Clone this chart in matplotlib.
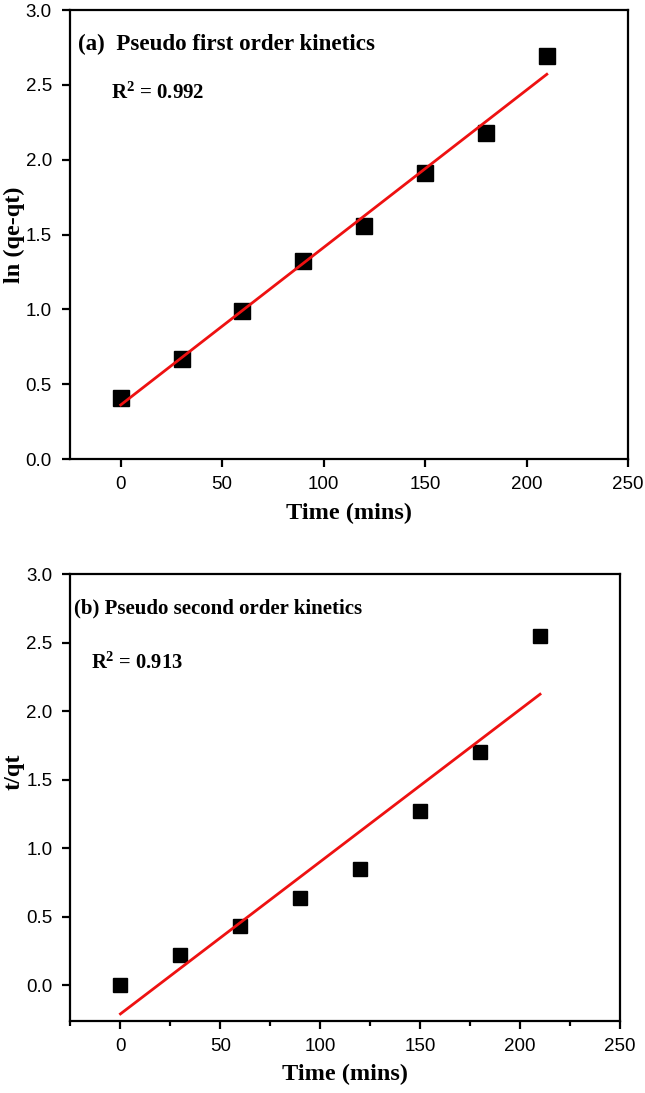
import matplotlib

matplotlib.use("Agg")
import matplotlib.pyplot as plt
import numpy as np
from matplotlib.ticker import MultipleLocator

# contact time (mins)
time_min = [0, 30, 60, 90, 120, 150, 180, 210]
# (a) pseudo first order: ln(qe-qt)
ln_qe_qt = [0.41, 0.67, 0.99, 1.32, 1.56, 1.91, 2.18, 2.69]
# (b) pseudo second order: t/qt
t_over_qt = [0.00, 0.22, 0.43, 0.64, 0.85, 1.27, 1.70, 2.55]

r2_first = "0.992"
r2_second = "0.913"

SANS = "Liberation Sans"
SERIF = "Liberation Serif"

plt.rcParams["font.family"] = SANS
plt.rcParams["mathtext.fontset"] = "custom"
plt.rcParams["mathtext.rm"] = SERIF
plt.rcParams["mathtext.bf"] = "Liberation Serif:bold"

fig = plt.figure(figsize=(6.45, 10.93), dpi=100)
ax_a = fig.add_axes([0.1085, 0.5800, 0.8651, 0.4108])
ax_b = fig.add_axes([0.1093, 0.0659, 0.8519, 0.4089])


def style(ax, ylabel, minor_x):
    for s in ax.spines.values():
        s.set_linewidth(1.6)
    ax.tick_params(axis="both", which="major", direction="out", length=6, width=1.6,
                   labelsize=13.5)
    ax.tick_params(axis="x", pad=6)
    ax.tick_params(axis="y", pad=7)
    ax.xaxis.set_major_locator(MultipleLocator(50))
    ax.yaxis.set_major_locator(MultipleLocator(0.5))
    if minor_x:
        ax.xaxis.set_minor_locator(MultipleLocator(25))
        ax.tick_params(axis="x", which="minor", direction="out", length=3.5, width=1.6)
    ax.set_xlabel("Time (mins)", family=SERIF, fontweight="bold", fontsize=17.5, labelpad=7)
    ax.set_ylabel(ylabel, family=SERIF, fontweight="bold", fontsize=17.5)
    for lab in ax.get_xticklabels() + ax.get_yticklabels():
        lab.set_family(SANS)


x = np.array(time_min, dtype=float)

# (a)
ya = np.array(ln_qe_qt)
ka, ba = np.polyfit(x, ya, 1)
ax_a.plot(x, ya, "s", color="black", markersize=11.5, zorder=2)
ax_a.plot([x[0], x[-1]], [ba, ka * x[-1] + ba], color="#ee1111", linewidth=2, zorder=3)
ax_a.set_xlim(-25, 250)
ax_a.set_ylim(0, 3.0)
style(ax_a, "ln (qe-qt)", minor_x=False)
ax_a.yaxis.set_label_coords(-0.081, 0.5)
ax_a.text(0.014, 0.923, "(a)  Pseudo first order kinetics", transform=ax_a.transAxes,
          family=SERIF, fontweight="bold", fontsize=16.6, va="center", ha="left")
ax_a.text(0.073, 0.815, r"$\mathbf{R^2}$ = " + r2_first, transform=ax_a.transAxes,
          family=SERIF, fontweight="bold", fontsize=15, va="center", ha="left")

# (b)
yb = np.array(t_over_qt)
kb, bb = np.polyfit(x, yb, 1)
ax_b.plot(x, yb, "s", color="black", markersize=9.5, zorder=2)
ax_b.plot([x[0], x[-1]], [bb, kb * x[-1] + bb], color="#ee1111", linewidth=2, zorder=3)
ax_b.set_xlim(-25, 250)
ax_b.set_ylim(-0.26, 3.0)
style(ax_b, "t/qt", minor_x=True)
ax_b.yaxis.set_label_coords(-0.083, 0.557)
ax_b.text(0.007, 0.923, "(b) Pseudo second order kinetics", transform=ax_b.transAxes,
          family=SERIF, fontweight="bold", fontsize=15, va="center", ha="left")
ax_b.text(0.038, 0.80, r"$\mathbf{R^2}$ = " + r2_second, transform=ax_b.transAxes,
          family=SERIF, fontweight="bold", fontsize=14.8, va="center", ha="left")

fig.savefig("out.png", dpi=100)
